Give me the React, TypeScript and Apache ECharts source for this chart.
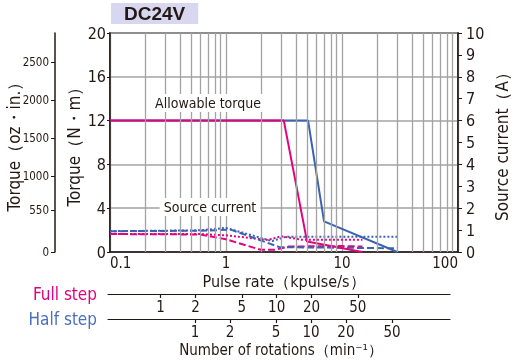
import React, { useEffect, useRef } from "react";
import * as echarts from "echarts";

const FONT = "'Liberation Sans Narrow', 'DejaVu Sans Condensed', 'Arial Narrow', sans-serif";
const PINK = "#e4007f";
const BLUE = "#3b62b0";
const INK = "#231815";
const GRID = "#a3a3a3";

// Torque (N·m) vs pulse rate (kpulse/s)
const fullTorque: [number, number][] = [[0.1, 12], [3.15, 12], [5, 0.95], [15, 0]];
const halfTorque: [number, number][] = [[0.1, 12], [5.1, 12], [7, 2.8], [30, 0]];
// Source current (A) vs pulse rate
const halfCurrentDotted: [number, number][] = [[0.1, 0.95], [0.6, 0.99], [1, 1.1], [2.5, 0.5], [3.3, 0.7], [30, 0.7]];
const halfCurrentDashed: [number, number][] = [[0.1, 0.95], [0.6, 0.97], [1.1, 1.02], [2.9, 0.22], [30, 0.17]];
const fullCurrentDotted: [number, number][] = [[0.1, 0.82], [0.6, 0.82], [1, 0.76], [2.3, 0.55], [3, 0.72], [4.5, 0.56], [15, 0.56]];
const fullCurrentDashed: [number, number][] = [[0.1, 0.82], [0.6, 0.8], [1, 0.58], [2, 0.1], [2.6, 0.1], [3.5, 0.25], [10, 0.27], [15, 0.25]];

const pulseRange: [number, number][] = [[0.1, 0], [100, 0]];
const minorGrid = [0.2, 0.3, 0.4, 0.5, 0.6, 0.7, 0.8, 0.9, 2, 3, 4, 5, 6, 7, 8, 9, 20, 30, 40, 50, 60, 70, 80, 90];
const ozTicks = [0, 550, 1000, 1500, 2000, 2500];
const rotationTicks = [1, 2, 5, 10, 20, 50];

export default function App() {
  const ref = useRef<HTMLDivElement>(null);
  useEffect(() => {
    if (!ref.current) return;
    const chart = echarts.init(ref.current, null, { renderer: "svg" });
    const logTicks = rotationTicks.map((v) => Math.log10(v));
    const rotAxis = (grid: number, min: number, max: number, name: string, nameColor: string) => ({
      type: "value",
      gridIndex: grid,
      min,
      max,
      axisLine: { show: true, lineStyle: { color: INK, width: 1.2 } },
      axisTick: { show: true, customValues: logTicks, length: 4, lineStyle: { color: INK, width: 1.2 } },
      axisLabel: {
        customValues: logTicks,
        formatter: (v: number) => String(Math.round(Math.pow(10, v))),
        fontFamily: FONT,
        fontSize: 15,
        color: INK,
        margin: 5,
      },
      splitLine: { show: false },
      name,
      nameLocation: "start",
      nameGap: 11,
      nameMoveOverlap: false,
      nameTextStyle: { color: nameColor, fontFamily: FONT, fontSize: 17 },
    });
    const lineSeries = (data: [number, number][], color: string, yAxisIndex: number, type: string) => ({
      type: "line",
      xAxisIndex: 0,
      yAxisIndex,
      data,
      symbol: "none",
      z: 3,
      lineStyle: { color, width: 2, type: type === "dotted" ? [2, 2] : type === "dashed" ? [7, 3] : "solid" },
    });
    chart.setOption({
      animation: false,
      title: {
        text: "DC24V",
        left: 111,
        top: 3,
        backgroundColor: "#d7d8ef",
        padding: [1, 13],
        textStyle: { fontFamily: "'Liberation Sans', Arial, sans-serif", fontSize: 19, fontWeight: "bold", color: INK },
      },
      grid: [
        { left: 110, top: 33, width: 348, height: 219, show: true, borderColor: INK, borderWidth: 1.5, backgroundColor: "transparent", outerBoundsMode: "none", containLabel: false },
        { left: 108, top: 293, width: 342, height: 1, outerBoundsMode: "none", containLabel: false },
        { left: 108, top: 318, width: 342, height: 1, outerBoundsMode: "none", containLabel: false },
      ],
      xAxis: [
        {
          type: "log",
          logBase: 10,
          gridIndex: 0,
          min: 0.1,
          max: 100,
          axisLine: { show: true, lineStyle: { color: INK, width: 1.5 } },
          axisTick: { show: false },
          axisLabel: { fontFamily: FONT, fontSize: 15, color: INK, margin: 3, alignMinLabel: "left", alignMaxLabel: "right" },
          splitLine: { show: true, lineStyle: { color: GRID, width: 1.3 } },
          name: "Pulse rate（kpulse/s）",
          nameLocation: "middle",
          nameGap: 21,
          nameMoveOverlap: false,
          nameTextStyle: { fontFamily: FONT, fontSize: 16, color: INK },
        },
        rotAxis(1, -0.454, 2.494, "Full step", PINK),
        rotAxis(2, -0.75, 2.198, "Half step", "#4a6fbf"),
      ],
      yAxis: [
        {
          type: "value",
          gridIndex: 0,
          position: "left",
          min: 0,
          max: 20,
          interval: 4,
          axisLine: { show: true, lineStyle: { color: INK, width: 1.5 } },
          axisTick: { show: true, length: 3, lineStyle: { color: INK } },
          axisLabel: { fontFamily: FONT, fontSize: 16, color: INK, margin: 4 },
          splitLine: { show: true, lineStyle: { color: GRID, width: 1.5 } },
          name: "Torque（N・m）",
          nameLocation: "middle",
          nameGap: 28,
          nameMoveOverlap: false,
          nameTextStyle: { fontFamily: FONT, fontSize: 17, color: INK },
        },
        {
          type: "value",
          gridIndex: 0,
          position: "right",
          min: 0,
          max: 10,
          interval: 1,
          axisLine: { show: true, lineStyle: { color: INK, width: 1.5 } },
          axisTick: { show: true, length: 4, lineStyle: { color: INK } },
          axisLabel: { fontFamily: FONT, fontSize: 16, color: INK, margin: 8 },
          splitLine: { show: false },
          name: "Source current（A）",
          nameLocation: "middle",
          nameGap: 35,
          nameMoveOverlap: false,
          nameTextStyle: { fontFamily: FONT, fontSize: 17, color: INK },
        },
        {
          type: "value",
          gridIndex: 0,
          position: "left",
          offset: 55,
          min: 0,
          max: 2880,
          axisLine: { show: true, lineStyle: { color: INK, width: 1.5 } },
          axisTick: { show: true, customValues: ozTicks, length: 4, lineStyle: { color: INK } },
          axisLabel: { customValues: ozTicks, formatter: (v: number) => String(v), fontFamily: FONT, fontSize: 11.5, color: INK, margin: 6 },
          splitLine: { show: false },
          name: "Torque（oz・in.）",
          nameLocation: "middle",
          nameGap: 33,
          nameMoveOverlap: false,
          nameTextStyle: { fontFamily: FONT, fontSize: 17, color: INK },
        },
        { type: "value", gridIndex: 1, show: false, min: 0, max: 1 },
        { type: "value", gridIndex: 2, show: false, min: 0, max: 1 },
      ],
      series: [
        {
          type: "line",
          xAxisIndex: 0,
          yAxisIndex: 0,
          data: pulseRange,
          symbol: "none",
          z: 1,
          lineStyle: { opacity: 0 },
          markLine: {
            silent: true,
            symbol: "none",
            label: { show: false },
            lineStyle: { color: GRID, width: 1.3, type: "solid" },
            data: minorGrid.map((v) => ({ xAxis: v })),
          },
        },
        lineSeries(fullCurrentDashed, PINK, 1, "dashed"),
        lineSeries(fullCurrentDotted, PINK, 1, "dotted"),
        lineSeries(halfCurrentDashed, BLUE, 1, "dashed"),
        lineSeries(halfCurrentDotted, BLUE, 1, "dotted"),
        lineSeries(halfTorque, BLUE, 0, "solid"),
        lineSeries(fullTorque, PINK, 0, "solid"),
      ],
      graphic: [
        {
          type: "text",
          x: 208,
          y: 103,
          z: 100,
          style: {
            text: "Allowable torque",
            align: "center",
            verticalAlign: "middle",
            fontFamily: FONT,
            fontSize: 14,
            fill: INK,
            backgroundColor: "#fff",
            padding: [2, 4],
          },
        },
        {
          type: "text",
          x: 210,
          y: 207,
          z: 100,
          style: {
            text: "Source current",
            align: "center",
            verticalAlign: "middle",
            fontFamily: FONT,
            fontSize: 14,
            fill: INK,
            backgroundColor: "#fff",
            padding: [2, 4],
          },
        },
        {
          type: "text",
          x: 281,
          y: 350,
          z: 100,
          style: {
            text: "Number of rotations（min⁻¹）",
            align: "center",
            verticalAlign: "middle",
            fontFamily: FONT,
            fontSize: 15,
            fill: INK,
          },
        },
      ],
    });
    return () => chart.dispose();
  }, []);
  return <div ref={ref} style={{ position: "fixed", left: 0, top: 0, width: 532, height: 360 }} />;
}
